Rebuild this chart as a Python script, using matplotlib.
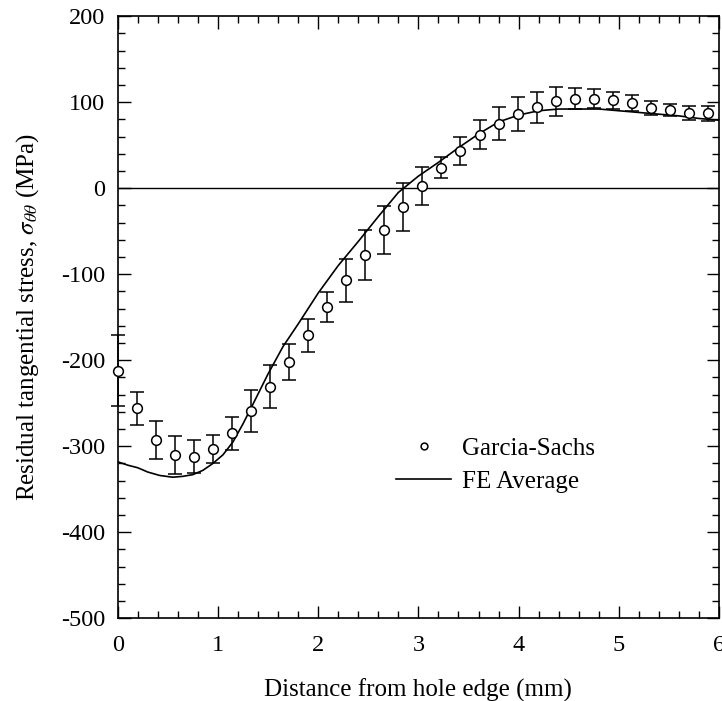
import matplotlib
matplotlib.use('agg')
import matplotlib.pyplot as plt
from matplotlib.ticker import MultipleLocator

plt.rcParams['font.family'] = ['Liberation Serif', 'DejaVu Serif']
plt.rcParams['mathtext.fontset'] = 'stix'
plt.rcParams['axes.unicode_minus'] = False

# Garcia-Sachs measurements (distance in mm, stress in MPa, error bar half-width)
gs_x = [0.00, 0.19, 0.38, 0.57, 0.76, 0.95, 1.14, 1.33, 1.52, 1.71,
        1.90, 2.09, 2.28, 2.47, 2.66, 2.85, 3.04, 3.23, 3.42, 3.61,
        3.80, 3.99, 4.18, 4.37, 4.56, 4.75, 4.94, 5.13, 5.32, 5.51,
        5.70, 5.89]
gs_y = [-212, -256, -293, -310, -312, -303, -285, -259, -231, -202,
        -171, -138, -107, -78, -49, -22, 3, 24, 43, 62,
        75, 86, 94, 101, 104, 104, 102, 99, 93, 91,
        87, 87]
gs_err = [41, 19, 22, 22, 19, 16, 19, 24, 25, 21,
          19, 17, 25, 29, 28, 28, 22, 12, 16, 17,
          19, 20, 18, 17, 12, 11, 10, 9, 8, 7,
          8, 9]

# FE average curve
fe_x = [0, 0.1, 0.2, 0.3, 0.42, 0.55, 0.65, 0.75, 0.85, 0.95, 1.05, 1.15,
        1.25, 1.35, 1.5, 1.65, 1.8, 2.0, 2.2, 2.4, 2.6, 2.8, 3.0, 3.2, 3.4,
        3.6, 3.8, 4.0, 4.2, 4.4, 4.6, 4.8, 5.0, 5.2, 5.4, 5.6, 5.8, 6.0]
fe_y = [-318, -322, -325, -330, -334, -336, -335, -333, -328, -320, -310, -295,
        -274, -251, -216, -184, -158, -122, -90, -62, -33, -5, 14, 30, 47,
        63, 77, 85, 90, 92, 92, 92, 90, 88, 86, 84, 81, 79]

fig = plt.figure(figsize=(7.22, 7.01), dpi=100)
ax = fig.add_axes([0.163, 0.118, 0.833, 0.859])

ax.axhline(0, color='black', lw=1.0, zorder=1)
ax.plot(fe_x, fe_y, color='black', lw=1.2, label='FE Average', zorder=2)
ax.errorbar(gs_x, gs_y, yerr=gs_err, fmt='none', ecolor='black', elinewidth=1.1,
            capsize=5, capthick=1.1, zorder=3, clip_on=False)
ax.plot(gs_x, gs_y, 'o', mfc='white', mec='black', mew=1.1, ms=7,
        label='Garcia-Sachs', zorder=4, clip_on=False)

ax.set_xlim(0, 6)
ax.set_ylim(-500, 200)
ax.xaxis.set_major_locator(MultipleLocator(1))
ax.xaxis.set_minor_locator(MultipleLocator(0.2))
ax.yaxis.set_major_locator(MultipleLocator(100))
ax.yaxis.set_minor_locator(MultipleLocator(20))
ax.tick_params(which='both', direction='in', top=True, right=True, width=1.0)
ax.tick_params(which='major', length=9, labelsize=17.5)
ax.tick_params(which='minor', length=5)
ax.tick_params(axis='x', which='major', pad=12)
ax.tick_params(axis='y', which='major', pad=9)
for s in ax.spines.values():
    s.set_linewidth(1.2)

ax.set_xlabel('Distance from hole edge (mm)', fontsize=18, labelpad=16)
ax.set_ylabel(r'Residual tangential stress, $\sigma_{\theta\theta}$ (MPa)',
              fontsize=18, labelpad=14)

h, l = ax.get_legend_handles_labels()
ax.legend(h[::-1], l[::-1], loc='upper left', bbox_to_anchor=(0.463, 0.3),
          borderaxespad=0, borderpad=0, frameon=False, fontsize=18,
          markerscale=0.7, handlelength=2.2, handletextpad=0.45,
          labelspacing=0.4)

plt.savefig('out.png', dpi=100)
